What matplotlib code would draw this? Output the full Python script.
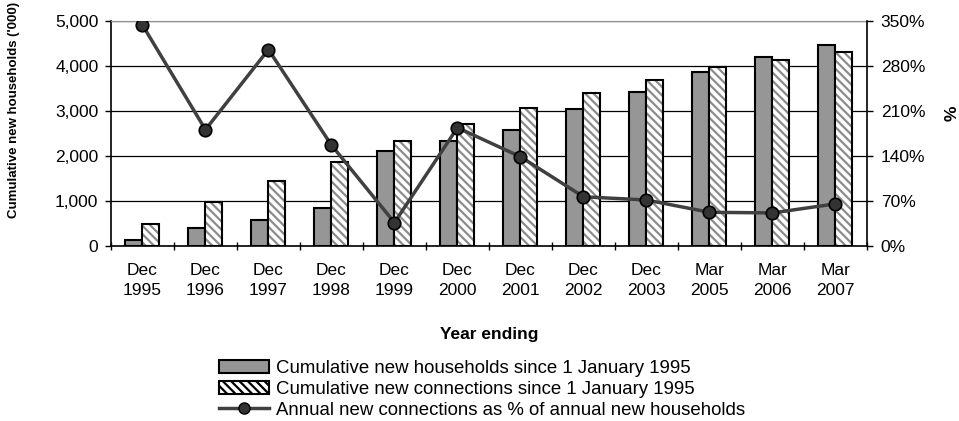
import numpy as np
import matplotlib
matplotlib.use('Agg')
import matplotlib.pyplot as plt
from matplotlib.patches import Patch
from matplotlib.lines import Line2D
from matplotlib.ticker import FuncFormatter

plt.rcParams['font.family'] = ['Liberation Sans', 'DejaVu Sans']
plt.rcParams['hatch.linewidth'] = 1.6

# data
periods = ['Dec\n1995', 'Dec\n1996', 'Dec\n1997', 'Dec\n1998', 'Dec\n1999', 'Dec\n2000',
           'Dec\n2001', 'Dec\n2002', 'Dec\n2003', 'Mar\n2005', 'Mar\n2006', 'Mar\n2007']
households = [150, 400, 585, 855, 2115, 2325, 2580, 3040, 3415, 3850, 4195, 4455]
connections = [500, 975, 1440, 1865, 2325, 2710, 3060, 3385, 3675, 3980, 4125, 4300]
pct_annual = [343, 181, 305, 157, 37, 184, 139, 77, 72, 53, 52, 66]

fig = plt.figure(figsize=(9.59, 4.21), dpi=100)
ax = fig.add_axes([0.1157, 0.4145, 0.7883, 0.5368])

x = np.arange(len(periods))
w = 0.27
ax.bar(x - w / 2, households, w, color='#969696', edgecolor='black', linewidth=1.5, zorder=2)
# hatched bars: hatch drawn in grey, outline added on top in black
ax.bar(x + w / 2, connections, w, color='white', edgecolor='#8c8c8c', linewidth=0,
       hatch='\\\\\\\\', zorder=2)
ax.bar(x + w / 2, connections, w, fill=False, edgecolor='black', linewidth=1.5, zorder=3)

ax.set_xlim(-0.5, len(periods) - 0.5)
ax.set_ylim(0, 5000)
ax.set_yticks(np.arange(0, 5001, 1000))
ax.yaxis.set_major_formatter(FuncFormatter(lambda v, p: f'{int(v):,}'))
ax.grid(axis='y', color='black', linewidth=0.9)
ax.set_axisbelow(True)

ax.set_xticks(x)
ax.set_xticklabels(periods, linespacing=1.4)
ax.set_xticks(np.arange(-0.5, len(periods)), minor=True)
ax.tick_params(axis='x', which='major', length=0, pad=12, labelsize=12.5)
ax.tick_params(axis='x', which='minor', length=6, width=1, direction='inout')
ax.tick_params(axis='y', length=4, width=1, pad=5, labelsize=12.5)

for s in ['left', 'bottom']:
    ax.spines[s].set_linewidth(1.2)
ax.spines['top'].set_color('#909090')
ax.spines['right'].set_visible(False)

ax.set_ylabel("Cumulative new households ('000)", fontsize=9.5, fontweight='bold')
ax.yaxis.set_label_coords(-0.12, 0.605)
ax.set_xlabel('Year ending', fontsize=12.5, fontweight='bold')
ax.xaxis.set_label_coords(0.5, -0.355)

ax2 = ax.twinx()
ax2.plot(x, pct_annual, color='#404040', linewidth=2.5, marker='o', markersize=9,
         markerfacecolor='#333333', markeredgecolor='black', markeredgewidth=1.2, zorder=5)
ax2.set_ylim(0, 350)
ax2.set_yticks(np.arange(0, 351, 70))
ax2.yaxis.set_major_formatter(FuncFormatter(lambda v, p: f'{int(v)}%'))
ax2.tick_params(axis='y', length=4, width=1, pad=6, labelsize=12.5)
ax2.spines['right'].set_linewidth(1.2)
ax2.spines['top'].set_visible(False)
ax2.spines['left'].set_visible(False)
ax2.spines['bottom'].set_visible(False)
ax2.set_ylabel('%', fontsize=12.5, fontweight='bold', rotation=90)
ax2.yaxis.set_label_coords(1.103, 0.59)

handles = [
    Patch(facecolor='#969696', edgecolor='black', linewidth=1.5),
    Patch(facecolor='white', edgecolor='black', linewidth=1.5, hatch='\\\\\\\\'),
    Line2D([0], [0], color='#404040', linewidth=2.5, marker='o', markersize=8,
           markerfacecolor='#333333', markeredgecolor='black'),
]
labels = ['Cumulative new households since 1 January 1995',
          'Cumulative new connections since 1 January 1995',
          'Annual new connections as % of annual new households']
fig.legend(handles, labels, loc='upper left', bbox_to_anchor=(219 / 959, 1 - 360 / 421),
           frameon=False, fontsize=13.4, handlelength=2.7, handleheight=0.7,
           handletextpad=0.35, labelspacing=0.2, borderpad=0, borderaxespad=0)

fig.savefig('out.png', dpi=100)
